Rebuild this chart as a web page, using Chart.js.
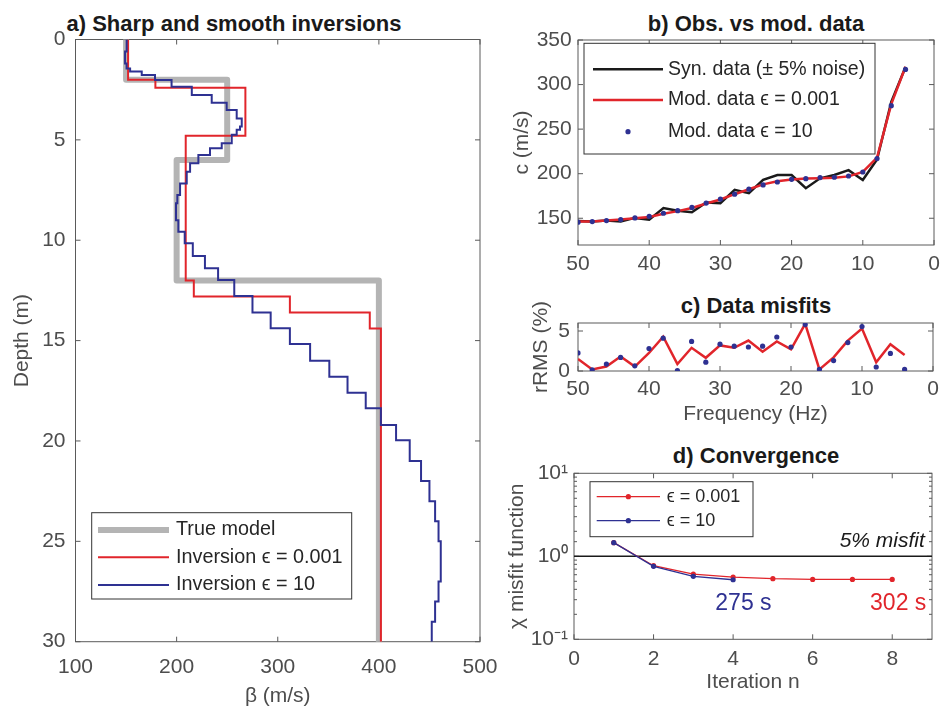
<!DOCTYPE html>
<html>
<head>
<meta charset="utf-8">
<script src="https://cdn.jsdelivr.net/npm/chart.js@4.4.1/dist/chart.umd.min.js"></script>
<style>
body { margin: 0; background: #fff; width: 943px; height: 709px; position: relative; overflow: hidden;
       font-family: 'Liberation Sans', Arial, sans-serif; }
canvas { position: absolute; }
.ttl { position: absolute; font-weight: bold; font-size: 22px; line-height: 22px; color: #1a1a1a;
       transform: translate(-50%, -50%); white-space: nowrap; }
</style>
</head>
<body>
<div class="ttl" style="left:234px;top:24px">a) Sharp and smooth inversions</div>
<div class="ttl" style="left:756px;top:24px">b) Obs. vs mod. data</div>
<div class="ttl" style="left:756px;top:306px">c) Data misfits</div>
<div class="ttl" style="left:756px;top:456px">d) Convergence</div>

<canvas id="pa" width="500" height="709" style="left:0;top:0"></canvas>
<canvas id="pb" width="443" height="290" style="left:500px;top:0"></canvas>
<canvas id="pc" width="443" height="130" style="left:500px;top:300px"></canvas>
<canvas id="pd" width="443" height="269" style="left:500px;top:440px"></canvas>

<script>
// ---------- data: a) velocity profiles (layer boundaries in m, layer velocities in m/s)
const trueDepth = [0, 2, 6, 12, 30];
const trueBeta  = [150, 250, 200, 400];

const inv001Depth = [0, 2, 2.4, 4.8, 12, 12.8, 13.6, 14.4, 30];
const inv001Beta  = [152, 179, 268, 209, 217, 312, 391, 402];

const inv10Depth = [0, 0.6, 1.2, 1.44, 1.6, 1.77, 2.02, 2.35, 2.77, 3.15,
                    3.51, 3.93, 4.34, 4.5, 4.75, 5.17, 5.42, 5.75, 6.17, 6.59,
                    7.17, 7.75, 8.16, 9.0, 9.58, 10.15, 10.79, 11.4, 11.98, 12.78,
                    13.6, 14.39, 15.17, 16.0, 16.8, 17.6, 18.37, 19.2, 19.96, 21,
                    22, 23, 24, 25, 27, 28, 29, 30];
const inv10Beta  = [150.6, 149, 150.5, 154, 165.5, 178.6, 195, 215, 234.7, 249.5,
                    259.4, 264.4, 262.7, 259.4, 254.5, 244.6, 233, 221.5, 213.3, 210,
                    203.4, 200.7, 199.4, 201.7, 208, 216, 228, 241, 257, 275,
                    293, 312, 332, 351, 369, 387, 402, 417, 430.5, 441.7,
                    450, 455.6, 459, 461.2, 459, 455.6, 452.3];

// ---------- data: b) and c) dispersion curves
const freqs = [50, 48, 46, 44, 42, 40, 38, 36, 34, 32, 30, 28, 26, 24, 22, 20, 18, 16, 14, 12, 10, 8, 6, 4];
const synData  = [147, 146.3, 147.4, 146.3, 150.4, 148.5, 161.5, 158.5, 156.7, 167.8, 167, 181.9,
                  178.1, 193, 198.5, 198.5, 183.7, 194.8, 198.5, 204, 193, 216, 280.7, 319.6];
const mod001   = [146.5, 146.5, 147.5, 148.5, 150, 151.5, 155, 158, 161.5, 166.5, 171, 177,
                  182.5, 188, 191.5, 193.5, 194.5, 195, 195.5, 197, 202, 218, 278, 320];
const mod10    = [145.6, 146.3, 147.4, 148.5, 150.4, 152.2, 155.6, 158.5, 162.2, 167, 171.5, 177,
                  182.6, 187.4, 190.7, 193.7, 194.4, 195.6, 196, 197.4, 201.9, 217, 276.3, 317];
const rms001   = [1.5, 0.2, 0.55, 1.8, 0.55, 2.25, 4.3, 0.87, 2.9, 1.65, 3.2, 2.9,
                  3.8, 2.4, 3.7, 2.7, 5.9, 0.2, 1.7, 3.8, 5.3, 1.1, 3.35, 2.0];
const rms10    = [2.26, 0.13, 0.87, 1.7, 0.65, 2.8, 4.1, 0.05, 3.7, 1.1, 3.35, 3.1,
                  3.0, 3.1, 4.25, 3.0, 5.8, 0.2, 1.3, 3.55, 5.55, 0.5, 2.2, 0.2];

// ---------- data: d) convergence
const iter001 = [1, 2, 3, 4, 5, 6, 7, 8];
const chi001  = [1.46, 0.77, 0.611, 0.562, 0.537, 0.527, 0.527, 0.527];
const iter10  = [1, 2, 3, 4];
const chi10   = [1.46, 0.757, 0.573, 0.522];
const misfitLevel = 1;

// ---------- tick labels
const betaTicks  = [100, 200, 300, 400, 500];
const depthTicks = [0, 5, 10, 15, 20, 25, 30];
const freqTicks  = [0, 10, 20, 30, 40, 50];
const velTicks   = [150, 200, 250, 300, 350];
const rmsTicks   = [0, 5];
const iterTicks  = [0, 2, 4, 6, 8];

const RED = '#e1252b', BLUE = '#2e3192', GRAY = '#b4b4b4', BLACK = '#1a1a1a', TXT = '#4d4d4d';
const FONT = "'Liberation Sans', Arial, sans-serif";
Chart.defaults.font.family = FONT;
Chart.defaults.color = TXT;

function steps(depth, beta) {
    const pts = [];
    beta.forEach((b, i) => {
        pts.push({x: b, y: depth[i]});
        pts.push({x: b, y: depth[i + 1]});
    });
    return pts;
}
const xy = (xs, ys) => xs.map((x, i) => ({x: x, y: ys[i]}));

// MATLAB style box with inward ticks
const matlabBox = {
    id: 'matlabBox',
    beforeDatasetsDraw(chart) {
        const {ctx, chartArea: a, scales} = chart;
        ctx.save();
        ctx.strokeStyle = '#5a5a5a';
        ctx.lineWidth = 1;
        ctx.strokeRect(a.left, a.top, a.right - a.left, a.bottom - a.top);
        ctx.beginPath();
        scales.x.ticks.forEach(t => {
            const p = scales.x.getPixelForValue(t.value);
            ctx.moveTo(p, a.bottom); ctx.lineTo(p, a.bottom - 5);
            ctx.moveTo(p, a.top); ctx.lineTo(p, a.top + 5);
        });
        scales.y.ticks.forEach(t => {
            const p = scales.y.getPixelForValue(t.value);
            const len = t.label === '' ? 3 : 5;
            ctx.moveTo(a.left, p); ctx.lineTo(a.left + len, p);
            ctx.moveTo(a.right, p); ctx.lineTo(a.right - len, p);
        });
        ctx.stroke();
        ctx.restore();
    }
};

// legend drawn inside the axes, with a frame
const boxLegend = {
    id: 'boxLegend',
    afterDatasetsDraw(chart, args, o) {
        if (!o.box) return;
        const ctx = chart.ctx;
        const [x, y, w, h] = o.box;
        ctx.save();
        ctx.fillStyle = '#fff';
        ctx.fillRect(x, y, w, h);
        ctx.strokeStyle = '#333';
        ctx.lineWidth = 1;
        ctx.strokeRect(x, y, w, h);
        ctx.font = (o.size || 18) + 'px ' + FONT;
        ctx.textBaseline = 'middle';
        chart.data.datasets.filter(d => d.label).forEach((d, i) => {
            const ry = y + o.rows[i];
            if (d.showLine !== false) {
                ctx.strokeStyle = d.borderColor;
                ctx.lineWidth = d.borderWidth;
                ctx.beginPath();
                ctx.moveTo(o.line[0], ry); ctx.lineTo(o.line[1], ry);
                ctx.stroke();
            }
            if (d.pointRadius > 0) {
                ctx.fillStyle = d.pointBackgroundColor;
                ctx.beginPath();
                ctx.arc((o.line[0] + o.line[1]) / 2, ry, d.pointRadius, 0, Math.PI * 2);
                ctx.fill();
            }
            ctx.fillStyle = '#262626';
            ctx.fillText(d.label, o.textX, ry);
        });
        ctx.restore();
    }
};

// free text placed at data coordinates
const textNotes = {
    id: 'textNotes',
    afterDatasetsDraw(chart, args, o) {
        if (!o.items) return;
        const ctx = chart.ctx;
        ctx.save();
        ctx.textBaseline = 'middle';
        o.items.forEach(n => {
            ctx.font = n.font;
            ctx.fillStyle = n.color;
            ctx.textAlign = n.align;
            ctx.fillText(n.text, chart.scales.x.getPixelForValue(n.x),
                         chart.scales.y.getPixelForValue(n.y) + (n.dy || 0));
        });
        ctx.restore();
    }
};

function axis(o) {
    const s = {
        type: o.type || 'linear',
        min: o.min, max: o.max, reverse: !!o.reverse,
        grid: {display: false, drawTicks: false},
        border: {display: false},
        ticks: {padding: o.pad, font: {size: 21}, color: TXT, autoSkip: false, maxRotation: 0},
        title: {display: !!o.title, text: o.title || '', font: {size: 21}, color: TXT,
                padding: {top: o.tpad || 0, bottom: o.tpad || 0}},
        afterFit: sc => {
            if (sc.isHorizontal()) sc.height = o.size; else sc.width = o.size;
            sc.paddingLeft = sc.paddingRight = sc.paddingTop = sc.paddingBottom = 0;
        }
    };
    if (o.ticks) s.afterBuildTicks = sc => { sc.ticks = o.ticks.map(v => ({value: v})); };
    if (o.cb) s.ticks.callback = o.cb;
    return s;
}

function base(padding, scales, plugins) {
    return {
        responsive: false,
        animation: false,
        layout: {padding: padding},
        scales: scales,
        plugins: Object.assign({legend: {display: false}, tooltip: {enabled: false}}, plugins)
    };
}

// ---------- a) profiles (lower "order" is drawn on top)
new Chart(document.getElementById('pa'), {
    type: 'line',
    data: {
        datasets: [
            {label: 'True model', data: steps(trueDepth, trueBeta), borderColor: GRAY, borderWidth: 6,
             pointRadius: 0, borderJoinStyle: 'round', order: 3},
            {label: 'Inversion \u03f5 = 0.001', data: steps(inv001Depth, inv001Beta), borderColor: RED,
             borderWidth: 2, pointRadius: 0, order: 2},
            {label: 'Inversion \u03f5 = 10', data: steps(inv10Depth, inv10Beta), borderColor: BLUE,
             borderWidth: 2, pointRadius: 0, order: 1}
        ]
    },
    options: base({top: 39.5, right: 20, bottom: 0, left: 0}, {
        x: axis({min: 100, max: 500, ticks: betaTicks, pad: 13, size: 67.3,
                 title: '\u03b2 (m/s)', tpad: 0.4}),
        y: axis({min: 0, max: 30, reverse: true, ticks: depthTicks, pad: 10, size: 75.5,
                 title: 'Depth (m)', tpad: 9.4})
    }, {
        boxLegend: {box: [91.7, 512.7, 260, 86.3], rows: [17.3, 44.6, 72.3], line: [98, 169], textX: 176,
                    size: 19.8}
    }),
    plugins: [matlabBox, boxLegend]
});

// ---------- b) observed vs modelled data
new Chart(document.getElementById('pb'), {
    type: 'line',
    data: {
        datasets: [
            {label: 'Syn. data (\u00b1 5% noise)', data: xy(freqs, synData), borderColor: BLACK,
             borderWidth: 2.5, pointRadius: 0, order: 3},
            {label: 'Mod. data \u03f5 = 0.001', data: xy(freqs, mod001), borderColor: RED,
             borderWidth: 2.5, pointRadius: 0, order: 2},
            {label: 'Mod. data \u03f5 = 10', data: xy(freqs, mod10), showLine: false,
             pointRadius: 2.6, pointBackgroundColor: BLUE, pointBorderWidth: 0, borderColor: BLUE, order: 1}
        ]
    },
    options: base({top: 40, right: 9, bottom: 0, left: 0}, {
        x: axis({min: 0, max: 50, reverse: true, ticks: freqTicks, pad: 6.4, size: 45}),
        y: axis({min: 120, max: 350, ticks: velTicks, pad: 6.3, size: 78, title: 'c (m/s)', tpad: 9.4})
    }, {
        boxLegend: {box: [84, 43.3, 291, 110.7], rows: [26, 56.7, 88.4], line: [93, 163], textX: 168,
                    size: 19.5}
    }),
    plugins: [matlabBox, boxLegend]
});

// ---------- c) data misfits
new Chart(document.getElementById('pc'), {
    type: 'line',
    data: {
        datasets: [
            {data: xy(freqs, rms001), borderColor: RED, borderWidth: 2.5, pointRadius: 0, order: 2},
            {data: xy(freqs, rms10), showLine: false, pointRadius: 2.6, pointBackgroundColor: BLUE,
             pointBorderWidth: 0, borderColor: BLUE, order: 1}
        ]
    },
    options: base({top: 23, right: 10, bottom: 0, left: 0}, {
        x: axis({min: 0, max: 50, reverse: true, ticks: freqTicks, pad: 5.4, size: 59,
                 title: 'Frequency (Hz)', tpad: 3.4}),
        y: axis({min: 0, max: 6, ticks: rmsTicks, pad: 8, size: 78, title: 'rRMS (%)', tpad: 28.4})
    }, {}),
    plugins: [matlabBox]
});

// ---------- d) convergence
const isDecade = v => Math.abs(Math.log10(v) - Math.round(Math.log10(v))) < 1e-6;
const supExp = {'-1': '10\u207b\u00b9', '0': '10\u2070', '1': '10\u00b9'};
new Chart(document.getElementById('pd'), {
    type: 'line',
    data: {
        datasets: [
            {label: '\u03f5 = 0.001', data: xy(iter001, chi001), borderColor: RED, borderWidth: 1.3,
             pointRadius: 2.6, pointBackgroundColor: RED, pointBorderWidth: 0, order: 2},
            {label: '\u03f5 = 10', data: xy(iter10, chi10), borderColor: BLUE, borderWidth: 1.3,
             pointRadius: 2.6, pointBackgroundColor: BLUE, pointBorderWidth: 0, order: 1},
            {data: [{x: 0, y: misfitLevel}, {x: 9, y: misfitLevel}], borderColor: BLACK,
             borderWidth: 1.5, pointRadius: 0, order: 3}
        ]
    },
    options: base({top: 33.3, right: 11, bottom: 0, left: 0}, {
        x: axis({min: 0, max: 9, ticks: iterTicks, pad: 7.4, size: 69.7, title: 'Iteration n', tpad: 14.4}),
        y: axis({type: 'logarithmic', min: 0.1, max: 10, pad: 6, size: 74,
                 title: '\u03c7 misfit function', tpad: 4.4,
                 cb: v => isDecade(v) ? supExp[String(Math.round(Math.log10(v)))] : ''})
    }, {
        boxLegend: {box: [90, 41.7, 163, 55], rows: [15, 39], line: [96.7, 160], textX: 166.7, size: 18},
        textNotes: {items: [
            {text: '5% misfit', x: 8.82, y: misfitLevel, dy: -15, align: 'right', color: BLACK,
             font: 'italic 21px ' + FONT},
            {text: '275 s', x: 4.26, y: 0.267, align: 'center', color: BLUE, font: '23px ' + FONT},
            {text: '302 s', x: 8.15, y: 0.267, align: 'center', color: RED, font: '23px ' + FONT}
        ]}
    }),
    plugins: [matlabBox, boxLegend, textNotes]
});
</script>
</body>
</html>
